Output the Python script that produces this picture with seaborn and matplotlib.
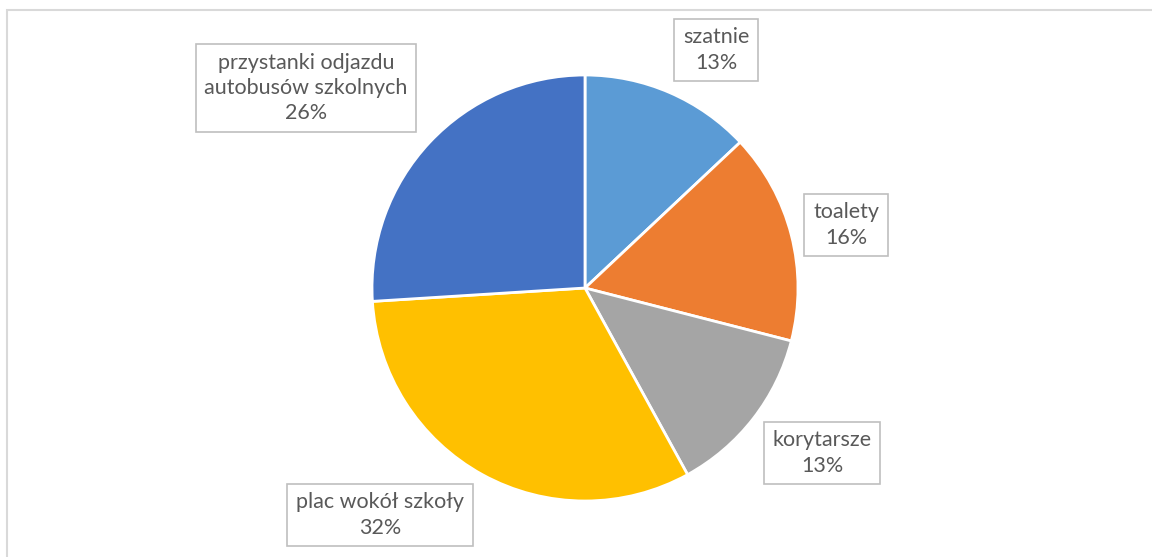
import matplotlib
matplotlib.use("Agg")
import matplotlib.pyplot as plt
import seaborn as sns
from matplotlib.patches import Rectangle

# data
categories = ["szatnie", "toalety", "korytarsze", "plac wokół szkoły",
              "przystanki odjazdu\nautobusów szkolnych"]
shares = [13, 16, 13, 32, 26]
colors = ["#5B9BD5", "#ED7D31", "#A5A5A5", "#FFC000", "#4472C4"]

# label box centres in pixel space (y measured from the top)
label_pos = [(716, 50), (846, 225), (822, 453), (380, 515), (306, 88)]

W, H = 1152, 557

sns.set_theme(style="white")
plt.rcParams["font.family"] = ["Lato", "DejaVu Sans"]

fig = plt.figure(figsize=(W / 100, H / 100), dpi=100)
ax = fig.add_axes([0, 0, 1, 1])

# chart frame (runs off the right and bottom edges)
fig.patches.append(Rectangle((6.5 / W, -0.1), 1.2, (H - 9.5) / H + 0.1,
                             transform=fig.transFigure, fill=False,
                             edgecolor="#D9D9D9", linewidth=1.5))

ax.pie(shares, colors=colors, startangle=90, counterclock=False,
       center=(585, H - 288), radius=213, frame=True,
       wedgeprops=dict(edgecolor="white", linewidth=2))
ax.set_xlim(0, W)
ax.set_ylim(0, H)
ax.set_aspect("equal")
ax.axis("off")

total = sum(shares)
for name, val, (px, py) in zip(categories, shares, label_pos):
    pct = round(100 * val / total)
    ax.text(px, H - py, f"{name}\n{pct}%", ha="center", va="center",
            fontsize=15.5, color="#595959", linespacing=1.33,
            bbox=dict(boxstyle="square,pad=0.4", facecolor="white",
                      edgecolor="#BFBFBF", linewidth=1.2))

fig.savefig("out.png", dpi=100, facecolor="white")
